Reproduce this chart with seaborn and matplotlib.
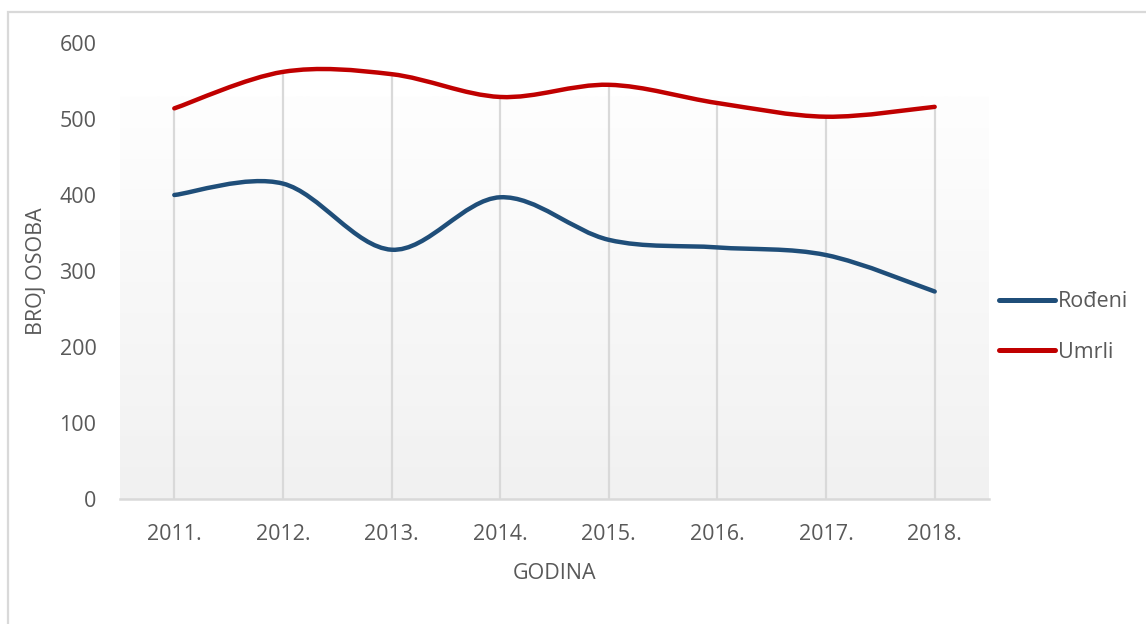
import numpy as np
import pandas as pd
import matplotlib
matplotlib.use('Agg')
import matplotlib.pyplot as plt
import seaborn as sns
from matplotlib.path import Path
from matplotlib.patches import PathPatch, Rectangle
from matplotlib.lines import Line2D

# podaci očitani s grafikona
godine = ['2011.', '2012.', '2013.', '2014.', '2015.', '2016.', '2017.', '2018.']
rodjeni = [400, 415, 328, 397, 341, 331, 321, 273]
umrli = [514, 562, 559, 529, 545, 521, 503, 516]
y_ticks = [0, 100, 200, 300, 400, 500, 600]

boje = {'Rođeni': '#1f4e79', 'Umrli': '#c00000'}
siva_tekst = '#595959'
siva_linija = '#d9d9d9'
fs = 15.5


def excel_smooth_path(xs, ys):
    # glatka linija kao u Excelu: kubni Bezier s kontrolnim točkama (Catmull-Rom)
    pts = np.column_stack([xs, ys]).astype(float)
    n = len(pts)
    verts = [pts[0]]
    codes = [Path.MOVETO]
    for i in range(n - 1):
        p0 = pts[i - 1] if i > 0 else pts[i]
        p1 = pts[i]
        p2 = pts[i + 1]
        p3 = pts[i + 2] if i + 2 < n else pts[i + 1]
        c1 = p1 + (p2 - p0) / 6.0
        c2 = p2 - (p3 - p1) / 6.0
        verts += [c1, c2, p2]
        codes += [Path.CURVE4] * 3
    return Path(verts, codes)


df = pd.DataFrame({
    'idx': list(range(len(godine))) * 2,
    'godina': godine * 2,
    'broj': rodjeni + umrli,
    'serija': ['Rođeni'] * len(godine) + ['Umrli'] * len(godine),
})

sns.set_style('white')
plt.rcParams['font.family'] = ['Open Sans', 'DejaVu Sans']

fig = plt.figure(figsize=(11.46, 6.24), dpi=100)
ax = fig.add_axes([120 / 1146, 1 - 499 / 624, (989 - 120) / 1146, (499 - 43) / 624])

# okvir grafikona
fig.patches.append(Rectangle((8 / 1146, -0.2), 1.2, 1.2 - 12 / 624,
                             transform=fig.transFigure, fill=False,
                             edgecolor=siva_linija, linewidth=1.6, zorder=0))

# gradijentna pozadina područja crtanja
grad = np.linspace(0, 1, 256).reshape(-1, 1)
cmap = matplotlib.colors.LinearSegmentedColormap.from_list('g', ['#f1f1f1', '#fefefe'])
ax.imshow(grad, extent=[-0.5, 7.5, 0, 529], origin='lower', aspect='auto',
          cmap=cmap, zorder=0)

# okomite linije od osi do najviše točke
ax.vlines(range(len(godine)), 0, umrli, color=siva_linija, linewidth=1.6, zorder=1)

# seaborn postavlja osi i skale; vidljive linije su zaglađene kao u Excelu
sns.lineplot(data=df, x='idx', y='broj', hue='serija', palette=boje,
             linewidth=3.2, ax=ax, legend=False, zorder=3)
for line in ax.lines:
    line.set_visible(False)

for serija, vals in [('Rođeni', rodjeni), ('Umrli', umrli)]:
    path = excel_smooth_path(range(len(godine)), vals)
    ax.add_patch(PathPatch(path, facecolor='none', edgecolor=boje[serija],
                           linewidth=3.2, capstyle='round', zorder=4))

ax.set_xlim(-0.5, 7.5)
ax.set_ylim(0, 600)
ax.set_xticks(range(len(godine)))
ax.set_xticklabels(godine)
ax.set_yticks(y_ticks)
ax.tick_params(axis='both', length=0, labelsize=fs, labelcolor=siva_tekst)
ax.tick_params(axis='y', pad=17)
ax.tick_params(axis='x', pad=18)

for s in ['top', 'right', 'left']:
    ax.spines[s].set_visible(False)
ax.spines['bottom'].set_color(siva_linija)
ax.spines['bottom'].set_linewidth(1.8)
ax.spines['bottom'].set_zorder(2)

ax.set_xlabel('GODINA', fontsize=fs, color=siva_tekst, labelpad=13)
ax.set_ylabel('BROJ OSOBA', fontsize=fs, color=siva_tekst, labelpad=9)
ax.patch.set_alpha(0)

handles = [Line2D([], [], color=boje[s], linewidth=3.6, solid_capstyle='round')
           for s in ['Rođeni', 'Umrli']]
leg = ax.legend(handles, ['Rođeni', 'Umrli'], loc='center left',
                bbox_to_anchor=(999 / 1146, 1 - 327 / 624),
                bbox_transform=fig.transFigure, frameon=False, fontsize=fs,
                handlelength=2.6, handletextpad=0.12, labelspacing=1.35,
                borderaxespad=0, borderpad=0)
for t in leg.get_texts():
    t.set_color(siva_tekst)

fig.savefig('out.png', dpi=100, facecolor='white')
